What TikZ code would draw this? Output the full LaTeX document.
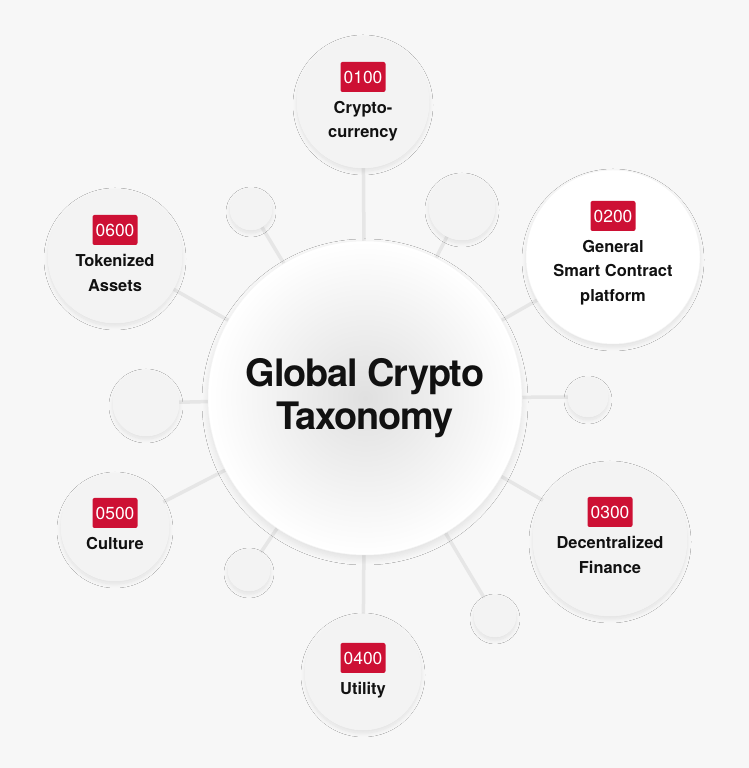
\documentclass[tikz,border=0pt]{standalone}
\usepackage{fontspec}
\setmainfont{TeX Gyre Heros}
\newfontfamily\headfont[LetterSpace=-3]{TeX Gyre Heros}
\usetikzlibrary{
	positioning,
	backgrounds,
	shadows.blur
}
\definecolor{PageGray}{RGB}{247,247,247}
\definecolor{BubbleGray}{RGB}{243,243,243}
\definecolor{SpokeGray}{RGB}{230,230,230}
\definecolor{HubMid}{RGB}{224,224,224}
\definecolor{BadgeRed}{RGB}{205,16,52}
\definecolor{InkBlack}{RGB}{17,17,17}

\tikzset{
	softshadow/.style={blur shadow={shadow xshift=0bp, shadow yshift=-3bp, shadow blur radius=4bp, shadow opacity=9, shadow blur steps=10}},
	bubble/.style={circle, fill=BubbleGray, draw=black!4, line width=0.5bp, softshadow, inner sep=0pt},
	hub/.style={circle, inner sep=0pt, minimum size=314bp, inner color=HubMid, outer color=white, draw=black!4, line width=0.5bp,
		blur shadow={shadow xshift=0bp, shadow yshift=-4bp, shadow blur radius=6bp, shadow opacity=9, shadow blur steps=12},
		align=center, text=InkBlack, font=\headfont\bfseries\fontsize{38}{43}\selectfont},
	badge/.style={fill=BadgeRed, text=white, rounded corners=2bp, minimum width=45bp, minimum height=30bp,
		inner sep=0pt, font=\fontsize{17.5}{20}\selectfont},
	tagtext/.style={align=center, inner sep=0pt, text=InkBlack, font=\bfseries\fontsize{16.5}{24.5}\selectfont},
	spoke/.style={draw=SpokeGray, line width=3.5bp}
}

\begin{document}
\begin{tikzpicture}[x=1bp, y=1bp]
		\useasboundingbox (0,0) rectangle (749,768);
		
		% centre
		\node[hub] (hub) at (365,370) {Global Crypto\\Taxonomy};
		
		% big bubbles
		\node[bubble, minimum size=132bp] (crypto) at (363,666) {};
		\node[bubble, minimum size=174bp, fill=white] (smart) at (613,511) {};
		\node[bubble, minimum size=154bp] (defi) at (610,229) {};
		\node[bubble, minimum size=116bp] (utility) at (363,96) {};
		\node[bubble, minimum size=108bp] (culture) at (115,241) {};
		\node[bubble, minimum size=134bp] (tokenized) at (115,512) {};
		
		% small empty bubbles
		\node[bubble, minimum size=42bp] (dotA) at (251,559) {};
		\node[bubble, minimum size=66bp] (dotB) at (462,561) {};
		\node[bubble, minimum size=66bp] (dotC) at (146,365) {};
		\node[bubble, minimum size=40bp] (dotD) at (588,371) {};
		\node[bubble, minimum size=42bp] (dotE) at (249,198) {};
		\node[bubble, minimum size=42bp] (dotF) at (495,152) {};
		
		% badges and names
		\node[badge] (n100) at ([yshift=25bp]crypto.center) {0100};
		\node[tagtext, below=9bp of n100] (t100) {Crypto-\\currency};
		
		\node[badge] (n200) at ([yshift=41bp]smart.center) {0200};
		\node[tagtext, below=9bp of n200] (t200) {General\\Smart Contract\\platform};
		
		\node[badge] (n300) at ([yshift=27bp]defi.center) {0300};
		\node[tagtext, below=9bp of n300] (t300) {Decentralized\\Finance};
		
		\node[badge] (n400) at ([yshift=14bp]utility.center) {0400};
		\node[tagtext, below=9bp of n400] (t400) {Utility};
		
		\node[badge] (n500) at ([yshift=14bp]culture.center) {0500};
		\node[tagtext, below=9bp of n500] (t500) {Culture};
		
		\node[badge] (n600) at ([yshift=26bp]tokenized.center) {0600};
		\node[tagtext, below=9bp of n600] (t600) {Tokenized\\Assets};
		
		% page and spokes go underneath
		\begin{scope}[on background layer]
			\fill[PageGray] (0,0) rectangle (749,768);
			\foreach \leaf in {crypto, smart, defi, utility, culture, tokenized, dotA, dotB, dotC, dotD, dotE, dotF}
				\draw[spoke] (hub.center) -- (\leaf.center);
		\end{scope}
	\end{tikzpicture}
\end{document}
